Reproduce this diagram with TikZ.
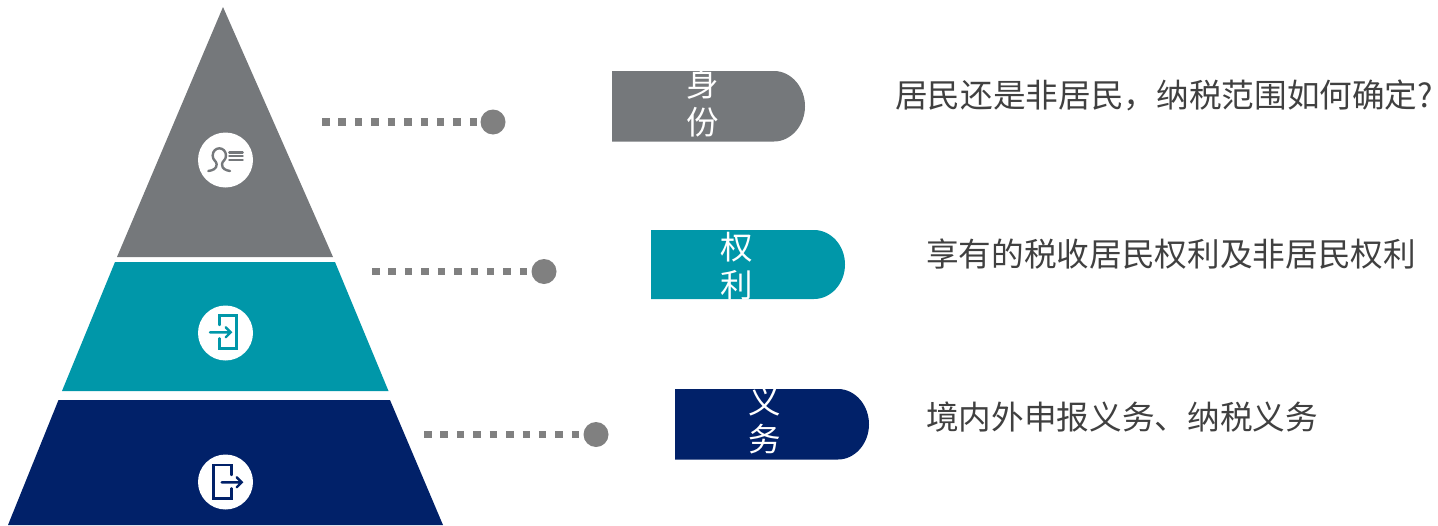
\documentclass[tikz,border=0pt]{standalone}
\usepackage{fontspec}
\setmainfont{Noto Sans CJK SC}
\newfontfamily\cjk{Noto Sans CJK SC}
\definecolor{cgray}{HTML}{75787B}
\definecolor{cteal}{HTML}{0097A9}
\definecolor{cnavy}{HTML}{012169}
\definecolor{cdot}{HTML}{808080}
\definecolor{ctext}{HTML}{404040}
\tikzset{
  x=1pt,y=-1pt,
  badge/.style={circle,fill=white,minimum size=55pt,inner sep=0pt},
  dotend/.style={circle,fill=cdot,minimum size=25pt,inner sep=0pt},
  leader/.style={draw=cdot,line width=7.5pt,dash pattern=on 7.5pt off 8.92pt},
  pilltext/.style={text=white,align=center,inner sep=0pt,font=\cjk\fontsize{32.5}{37.5}\selectfont},
  desc/.style={text=ctext,inner sep=0pt,anchor=west,font=\cjk\fontsize{32.65}{38}\selectfont},
  iconline/.style={line width=2.4pt,line cap=round,line join=miter}
}
\begin{document}
\begin{tikzpicture}
\useasboundingbox (0,0) rectangle (1438,525);
% pyramid
\fill[cgray] (223,7) -- (333,257) -- (117,257) -- cycle;
\fill[cteal] (115,262) -- (335,262) -- (388.5,391) -- (62,391) -- cycle;
\fill[cnavy] (58.5,400) -- (390,400) -- (443,525) -- (8,525) -- cycle;
% badges
\node[badge] (b1) at (225.5,160) {};
\node[badge] (b2) at (225.5,333) {};
\node[badge] (b3) at (225.5,482) {};
% icon 1
\begin{scope}[shift={(190,125)},x=.3333pt,y=-.3333pt,iconline,draw=cgray]
\draw (55,138) .. controls (68,136) and (80,132) .. (80,118) .. controls (80,108) and (68,106) .. (68,92) .. controls (68,78) and (78,70) .. (88,70) .. controls (98,70) and (108,78) .. (108,92) .. controls (108,106) and (96,108) .. (96,118) .. controls (96,132) and (108,136) .. (120,138);
\draw (118,82) -- (158,82) (118,93) -- (158,93) (118,105) -- (158,105);
\end{scope}
% icon 2
\begin{scope}[shift={(190,300)},x=.3333pt,y=-.3333pt,iconline,draw=cteal]
\draw (88,75) -- (88,47) -- (140,47) -- (140,145) -- (88,145) -- (88,115);
\draw (60,97) -- (122,97) (107,82) -- (122,97) -- (107,112);
\end{scope}
% icon 3
\begin{scope}[shift={(190,450)},x=.3333pt,y=-.3333pt,iconline,draw=cnavy]
\draw (125,75) -- (125,45) -- (70,45) -- (70,145) -- (125,145) -- (125,115);
\draw (95,97) -- (155,97) (140,82) -- (155,97) -- (140,112);
\end{scope}
% leaders
\coordinate (s1) at (322,122);
\coordinate (s2) at (372,271.5);
\coordinate (s3) at (424,434.5);
\node[dotend] (d1) at (493,122) {};
\node[dotend] (d2) at (544,271.5) {};
\node[dotend] (d3) at (596,434.5) {};
\draw[leader] (s1) -- (d1);
\draw[leader] (s2) -- (d2);
\draw[leader] (s3) -- (d3);
% pills
\begin{scope}
\clip (612,71) -- (774,71) .. controls (791,71) and (805,87) .. (805,106.25) .. controls (805,125.5) and (791,141.5) .. (774,141.5) -- (612,141.5) -- cycle;
\fill[cgray] (600,60) rectangle (820,150);
\node[pilltext] (p1) at (703,103) {身\\份};
\end{scope}
\begin{scope}
\clip (651,230) -- (814,230) .. controls (831,230) and (845,245.5) .. (845,264.5) .. controls (845,283.5) and (831,299) .. (814,299) -- (651,299) -- cycle;
\fill[cteal] (640,220) rectangle (860,310);
\node[pilltext] (p2) at (737,266) {权\\利};
\end{scope}
\begin{scope}
\clip (675,389) -- (838,389) .. controls (855,389) and (869,405) .. (869,424.25) .. controls (869,443.5) and (855,459.5) .. (838,459.5) -- (675,459.5) -- cycle;
\fill[cnavy] (660,380) rectangle (880,470);
\node[pilltext] (p3) at (765,420) {义\\务};
\end{scope}
% descriptions
\node[desc] (t1) at (895,95) {居民还是非居民，纳税范围如何确定?};
\node[desc] (t2) at (926,254) {享有的税收居民权利及非居民权利};
\node[desc] (t3) at (926,417) {境内外申报义务、纳税义务};
\end{tikzpicture}
\end{document}
